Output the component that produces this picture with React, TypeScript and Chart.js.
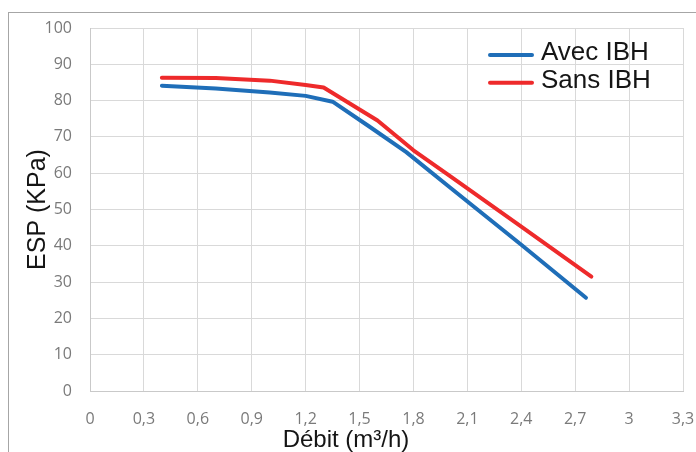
import React, { useEffect, useRef } from "react";
import { Chart, registerables } from "chart.js";

Chart.register(...registerables);

// ---- Data ----
const SERIES_LABELS = ["Avec IBH", "Sans IBH"];
const AVEC_X = [0.4, 0.7, 1.0, 1.2, 1.35, 1.55, 1.76, 2.0, 2.4, 2.76];
const AVEC_Y = [84.1, 83.3, 82.2, 81.3, 79.7, 73.0, 65.8, 56.2, 40.3, 25.7];
const SANS_X = [0.4, 0.7, 1.0, 1.2, 1.3, 1.6, 1.8, 2.0, 2.4, 2.79];
const SANS_Y = [86.3, 86.2, 85.5, 84.3, 83.6, 74.5, 66.3, 59.3, 45.3, 31.5];
const X_TICKS = [0, 0.3, 0.6, 0.9, 1.2, 1.5, 1.8, 2.1, 2.4, 2.7, 3, 3.3];
const Y_TICKS = [0, 10, 20, 30, 40, 50, 60, 70, 80, 90, 100];
const X_TITLE = "Débit (m³/h)";
const Y_TITLE = "ESP (KPa)";

const COLORS = ["#1F6EB8", "#EE2A2B"];
const GRID = "#d9d9d9";
const TICK_COLOR = "#7a7a7a";
const TEXT_COLOR = "#151515";
const SANS = '"Liberation Sans", Arial, sans-serif';

const insideLegend = {
  id: "insideLegend",
  afterDatasetsDraw(chart: any) {
    const { ctx, chartArea } = chart;
    ctx.save();
    chart.data.datasets.forEach((ds: any, i: number) => {
      const y = chartArea.top + 27 + i * 27.7;
      ctx.strokeStyle = ds.borderColor;
      ctx.lineWidth = 4;
      ctx.lineCap = "round";
      ctx.beginPath();
      ctx.moveTo(chartArea.right - 193, y);
      ctx.lineTo(chartArea.right - 151, y);
      ctx.stroke();
      ctx.fillStyle = TEXT_COLOR;
      ctx.font = `26px ${SANS}`;
      ctx.textAlign = "left";
      ctx.textBaseline = "middle";
      ctx.fillText(ds.label, chartArea.right - 142, y - 2);
    });
    ctx.restore();
  },
};

const fmt = (v: number) => String(Math.round(v * 10) / 10).replace(".", ",");

export default function App() {
  const ref = useRef<HTMLCanvasElement | null>(null);

  useEffect(() => {
    if (!ref.current) return;
    const chart = new Chart(ref.current, {
      type: "line",
      data: {
        datasets: [
          {
            label: SERIES_LABELS[0],
            data: AVEC_X.map((x, i) => ({ x, y: AVEC_Y[i] })),
            borderColor: COLORS[0],
            backgroundColor: COLORS[0],
            borderWidth: 4,
            pointRadius: 0,
            tension: 0,
            borderCapStyle: "round",
            borderJoinStyle: "round",
          },
          {
            label: SERIES_LABELS[1],
            data: SANS_X.map((x, i) => ({ x, y: SANS_Y[i] })),
            borderColor: COLORS[1],
            backgroundColor: COLORS[1],
            borderWidth: 4,
            pointRadius: 0,
            tension: 0,
            borderCapStyle: "round",
            borderJoinStyle: "round",
          },
        ],
      },
      options: {
        responsive: false,
        animation: false,
        layout: { padding: { left: 0, right: 13, top: 15, bottom: 0 } },
        plugins: {
          legend: { display: false },
          tooltip: { enabled: false },
          title: {
            display: true,
            position: "bottom",
            text: X_TITLE,
            color: TEXT_COLOR,
            font: { family: SANS, size: 24, weight: "normal", lineHeight: 1 },
            padding: 0,
          },
        },
        scales: {
          x: {
            type: "linear",
            min: 0,
            max: 3.3,
            afterBuildTicks: (s: any) => {
              s.ticks = X_TICKS.map((v) => ({ value: v }));
            },
            afterFit: (s: any) => {
              s.height = 37;
              s.paddingLeft = 0;
              s.paddingRight = 0;
            },
            ticks: {
              autoSkip: false,
              maxRotation: 0,
              padding: 19,
              color: TICK_COLOR,
              font: { family: '"Open Sans", sans-serif', size: 16 },
              callback: (v: any) => fmt(Number(v)),
            },
            grid: { color: GRID, lineWidth: 1, drawTicks: false },
            border: { color: "#c9c9c9", width: 1 },
          },
          y: {
            type: "linear",
            min: 0,
            max: 100,
            afterBuildTicks: (s: any) => {
              s.ticks = Y_TICKS.map((v) => ({ value: v }));
            },
            afterFit: (s: any) => {
              s.width = 81;
              s.paddingTop = 0;
              s.paddingBottom = 0;
            },
            ticks: {
              padding: 18,
              color: TICK_COLOR,
              font: { family: '"Open Sans", sans-serif', size: 16 },
              callback: (v: any) => fmt(Number(v)),
            },
            grid: { color: GRID, lineWidth: 1, drawTicks: false },
            border: { color: "#c9c9c9", width: 1 },
            title: {
              display: true,
              text: Y_TITLE,
              color: TEXT_COLOR,
              font: { family: SANS, size: 25, weight: "normal", lineHeight: 1.2 },
              padding: { top: 14, bottom: 0 },
            },
          },
        },
      },
      plugins: [insideLegend],
    } as any);
    return () => chart.destroy();
  }, []);

  return (
    <div
      style={{
        position: "absolute",
        left: 8,
        top: 12,
        width: 688,
        height: 440,
        boxSizing: "border-box",
        borderLeft: "1px solid #a6a6a6",
        borderTop: "1px solid #a6a6a6",
        overflow: "hidden",
        background: "#fff",
      }}
    >
      <canvas ref={ref} width={687} height={439} style={{ display: "block", width: 687, height: 439 }} />
    </div>
  );
}
